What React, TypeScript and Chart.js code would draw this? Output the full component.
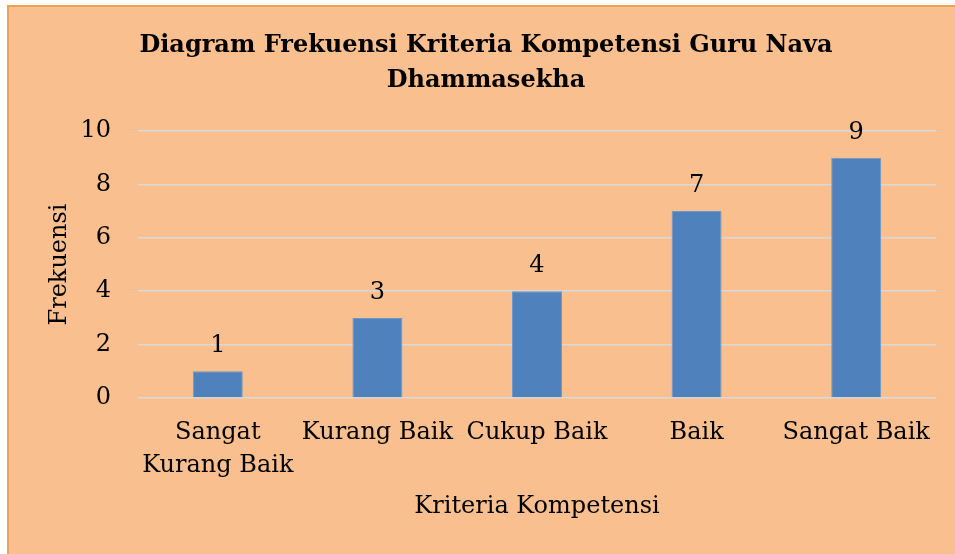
import React, { useEffect, useRef } from "react";
import { Chart, registerables } from "chart.js";

Chart.register(...registerables);

const titleLines = ["Diagram Frekuensi Kriteria Kompetensi Guru Nava", "Dhammasekha"];
const categories: (string | string[])[] = [
  ["Sangat", "Kurang Baik"],
  "Kurang Baik",
  "Cukup Baik",
  "Baik",
  "Sangat Baik",
];
const frequencies = [1, 3, 4, 7, 9];
const yAxisTitle = "Frekuensi";
const xAxisTitle = "Kriteria Kompetensi";

const FONT = "'DejaVu Serif', serif";

const valueLabels = {
  id: "valueLabels",
  afterDatasetsDraw(chart: any) {
    const ctx = chart.ctx;
    const meta = chart.getDatasetMeta(0);
    ctx.save();
    ctx.font = `24px ${FONT}`;
    ctx.fillStyle = "#000000";
    ctx.textAlign = "center";
    ctx.textBaseline = "alphabetic";
    meta.data.forEach((bar: any, i: number) => {
      ctx.fillText(String(chart.data.datasets[0].data[i]), bar.x, bar.y - 19);
    });
    ctx.restore();
  },
};

export default function App() {
  const canvasRef = useRef<HTMLCanvasElement | null>(null);

  useEffect(() => {
    if (!canvasRef.current) return;
    const chart = new Chart(canvasRef.current, {
      type: "bar",
      data: {
        labels: categories,
        datasets: [
          {
            data: frequencies,
            backgroundColor: "#4F81BD",
            borderColor: "#6E97C9",
            borderWidth: 1,
            barPercentage: 0.313,
            categoryPercentage: 1,
          },
        ],
      },
      plugins: [valueLabels],
      options: {
        animation: false,
        responsive: false,
        maintainAspectRatio: false,
        layout: { padding: { left: 36, right: 19, top: 0, bottom: 0 } },
        plugins: {
          legend: { display: false },
          tooltip: { enabled: false },
          title: {
            display: true,
            text: titleLines,
            color: "#000000",
            font: { family: FONT, size: 24, weight: "bold", lineHeight: 1.458 },
            padding: { top: 28, bottom: 33 },
          },
        },
        scales: {
          x: {
            grid: { display: false, drawTicks: false },
            border: { display: false },
            ticks: {
              color: "#000000",
              font: { family: FONT, size: 24, lineHeight: 1.375 },
              padding: 18,
              maxRotation: 0,
              minRotation: 0,
              autoSkip: false,
            },
            title: {
              display: true,
              text: xAxisTitle,
              color: "#000000",
              font: { family: FONT, size: 24, lineHeight: 1.2 },
              padding: { top: 0, bottom: 33 },
            },
            afterFit(scale: any) {
              scale.height = 156;
            },
          },
          y: {
            min: 0,
            max: 10,
            grid: { color: "#D9D9D9", lineWidth: 1.5, drawTicks: false },
            border: { display: false },
            ticks: {
              stepSize: 2,
              color: "#000000",
              font: { family: FONT, size: 24 },
              padding: 27,
            },
            title: {
              display: true,
              text: yAxisTitle,
              color: "#000000",
              font: { family: FONT, size: 24, lineHeight: 1.2 },
              padding: { top: 9, bottom: 0 },
            },
            afterFit(scale: any) {
              scale.width = 102;
            },
          },
        },
      },
    });
    return () => chart.destroy();
  }, []);

  return (
    <div style={{ position: "absolute", left: 0, top: 0, width: 955, height: 554, background: "#FFFFFF", overflow: "hidden" }}>
      <div
        style={{
          position: "absolute",
          left: 7,
          top: 5,
          width: 955,
          height: 560,
          background: "#F9BF8F",
          borderLeft: "2px solid #F0A050",
          borderTop: "2px solid #F0A050",
        }}
      />
      <canvas ref={canvasRef} width={955} height={554} style={{ position: "absolute", left: 0, top: 0, width: 955, height: 554 }} />
    </div>
  );
}
